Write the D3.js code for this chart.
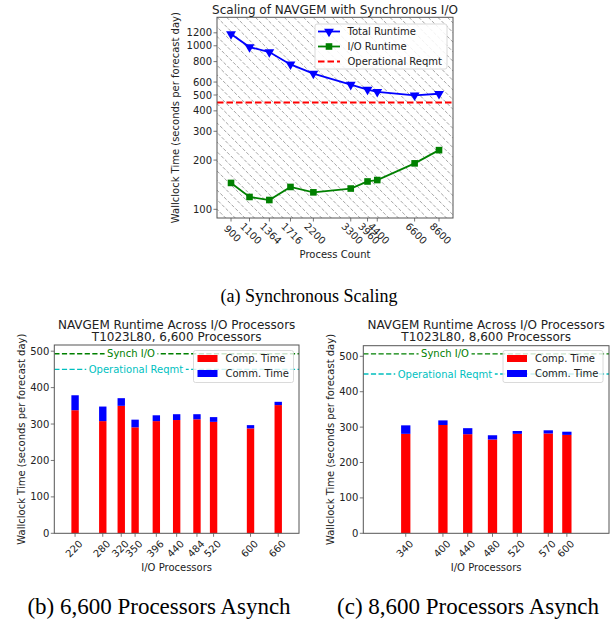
<!DOCTYPE html>
<html><head><meta charset="utf-8">
<script src="https://cdn.jsdelivr.net/npm/d3@7"></script>
<style>
body{margin:0;background:#fff;}
svg{display:block;}
text{font-family:"DejaVu Sans",sans-serif;fill:#222;}
.cap{font-family:"Liberation Serif","Times New Roman",serif;fill:#000;}
</style></head><body>
<svg id="fig" width="616" height="621"></svg>
<script>
// ---- data: (a) synchronous scaling ----
const procCounts = [900,1100,1364,1716,2200,3300,3960,4400,6600,8600];
const totalRuntime = [1179,982,915,769,675,578,539,523,498,509];
const ioRuntime = [145,119,114,137,127,134,148,151,191,230];
const opReqmt = 450;
const yTicksA = [100,200,300,400,500,600,800,1000,1200];

// ---- data: (b) 6,600 processors ----
const ioProcsB = [220,280,320,350,396,440,484,520,600,660];
const compB = [338,308,350,291,308,311,313,306,288,352];
const commB = [41,40,21,21,16,16,14,13,9,9];
const synchB = 493;

// ---- data: (c) 8,600 processors ----
const ioProcsC = [340,400,440,480,520,570,600];
const compC = [281,306,280,265,281,282,278];
const commC = [24,13,17,12,8,9,9];
const synchC = 507;
const yTicksBC = [0,100,200,300,400,500];

const svg = d3.select("#fig");
const FS = 10, TFS = 12;
const spineColor = "#555";

function box(g, x0, x1, y0, y1){
  g.append("rect").attr("x",x0).attr("y",y0).attr("width",x1-x0).attr("height",y1-y0)
   .attr("fill","none").attr("stroke",spineColor).attr("stroke-width",1);
}

// ================= (a) =================
(function(){
  const L=217,R=453,T=17.3,B=218;
  const x = d3.scaleLog().domain([773,10010]).range([L,R]);
  const y = d3.scaleLog().domain([88.5,1493]).range([B,T]);
  const g = svg.append("g");
  g.append("clipPath").attr("id","clipA").append("rect").attr("x",L).attr("y",T).attr("width",R-L).attr("height",B-T);
  // hatch
  const hg = g.append("g").attr("clip-path","url(#clipA)");
  const H = B-T, sp = 9.6;
  d3.range(-Math.ceil(H/sp)-2, Math.ceil((R-L)/sp)+2).forEach(k=>{
    const xs = L + k*sp;
    hg.append("line").attr("x1",xs).attr("y1",T).attr("x2",xs+H).attr("y2",T+H)
      .attr("stroke","#858585").attr("stroke-width",0.75).attr("stroke-dasharray","3.5,1.8");
  });
  // op reqmt
  g.append("line").attr("x1",L).attr("x2",R).attr("y1",y(opReqmt)).attr("y2",y(opReqmt))
   .attr("stroke","#ff0000").attr("stroke-width",2).attr("stroke-dasharray","6.5,3");
  const lineGen = (vals)=> d3.line().x((d,i)=>x(procCounts[i])).y(d=>y(d))(vals);
  g.append("path").attr("d",lineGen(totalRuntime)).attr("fill","none").attr("stroke","#0000ff").attr("stroke-width",1.8);
  g.append("path").attr("d",lineGen(ioRuntime)).attr("fill","none").attr("stroke","#008000").attr("stroke-width",1.8);
  const tri = d3.symbol().type(d3.symbolTriangle).size(42);
  g.selectAll(".tri").data(totalRuntime).enter().append("path")
   .attr("d",tri).attr("transform",(d,i)=>`translate(${x(procCounts[i])},${y(d)}) rotate(180)`).attr("fill","#0000ff");
  g.selectAll(".sq").data(ioRuntime).enter().append("rect")
   .attr("x",(d,i)=>x(procCounts[i])-3.3).attr("y",d=>y(d)-3.3).attr("width",6.6).attr("height",6.6).attr("fill","#008000");
  box(g,L,R,T,B);
  // y ticks
  yTicksA.forEach(v=>{
    g.append("line").attr("x1",L-3.5).attr("x2",L).attr("y1",y(v)).attr("y2",y(v)).attr("stroke",spineColor).attr("stroke-width",0.8);
    g.append("text").attr("x",L-5).attr("y",y(v)).attr("dy","0.35em").attr("text-anchor","end").attr("font-size",FS).text(v);
  });
  procCounts.forEach(v=>{
    g.append("line").attr("x1",x(v)).attr("x2",x(v)).attr("y1",B).attr("y2",B+3.5).attr("stroke",spineColor).attr("stroke-width",0.8);
    g.append("text").attr("transform",`translate(${x(v)+1.5},${B+15.5}) rotate(45)`).attr("text-anchor","middle").attr("dy","0.35em").attr("font-size",FS).text(v);
  });
  g.append("text").attr("x",(L+R)/2).attr("y",T-3.5).attr("text-anchor","middle").attr("font-size",TFS).text("Scaling of NAVGEM with Synchronous I/O");
  g.append("text").attr("x",(L+R)/2).attr("y",257.5).attr("text-anchor","middle").attr("font-size",FS).text("Process Count");
  g.append("text").attr("transform",`translate(178.5,${(T+B)/2}) rotate(-90)`).attr("text-anchor","middle").attr("font-size",FS).text("Wallclock Time (seconds per forecast day)");
  // legend
  const lg = g.append("g");
  lg.append("rect").attr("x",315).attr("y",24).attr("width",132).attr("height",45).attr("rx",2)
    .attr("fill","#fff").attr("fill-opacity",0.85).attr("stroke","#d0d0d0").attr("stroke-width",0.8);
  const rows=[{t:"Total Runtime",c:"#0000ff",m:"tri"},{t:"I/O Runtime",c:"#008000",m:"sq"},{t:"Operational Reqmt",c:"#ff0000",m:"dash"}];
  rows.forEach((r,i)=>{
    const yy = 31.5 + i*15;
    const ln = lg.append("line").attr("x1",318).attr("x2",340).attr("y1",yy).attr("y2",yy).attr("stroke",r.c).attr("stroke-width",r.m==="dash"?2:1.8);
    if(r.m==="dash") ln.attr("stroke-dasharray","6.5,3");
    if(r.m==="tri") lg.append("path").attr("d",tri).attr("transform",`translate(329,${yy}) rotate(180)`).attr("fill",r.c);
    if(r.m==="sq") lg.append("rect").attr("x",329-3.3).attr("y",yy-3.3).attr("width",6.6).attr("height",6.6).attr("fill",r.c);
    lg.append("text").attr("x",347.5).attr("y",yy).attr("dy","0.35em").attr("font-size",FS).text(r.t);
  });
  svg.append("text").attr("class","cap").attr("x",309).attr("y",302).attr("text-anchor","middle").attr("font-size",18).text("(a) Synchronous Scaling");
})();

// ================= (b),(c) =================
function barPanel(opt){
  const {L,R,T,B,xdom,ydom,cats,comp,comm,synch,bw,title2,clipId,synchLx,opLx,legX,ylabX,caption,capX} = opt;
  const x = d3.scaleLinear().domain(xdom).range([L,R]);
  const y = d3.scaleLinear().domain(ydom).range([B,T]);
  const g = svg.append("g");
  g.append("clipPath").attr("id",clipId).append("rect").attr("x",L).attr("y",T).attr("width",R-L).attr("height",B-T);
  const pg = g.append("g").attr("clip-path",`url(#${clipId})`);
  // reference lines with inline labels
  const refs=[{v:synch,c:"#008000",t:"Synch I/O",lx:synchLx},{v:opReqmt,c:"#00bfbf",t:"Operational Reqmt",lx:opLx}];
  refs.forEach(r=>{
    pg.append("line").attr("x1",L).attr("x2",R).attr("y1",y(r.v)).attr("y2",y(r.v))
      .attr("stroke",r.c).attr("stroke-width",1.4).attr("stroke-dasharray","5.2,2.4");
    const t = pg.append("text").attr("x",r.lx).attr("y",y(r.v)).attr("dy","0.35em").attr("text-anchor","middle")
      .attr("font-size",FS).style("fill",r.c).text(r.t);
    const bb = t.node().getBBox();
    pg.insert("rect",()=>t.node()).attr("x",bb.x-2.5).attr("y",bb.y).attr("width",bb.width+5).attr("height",bb.height).attr("fill","#fff");
  });
  // bars
  cats.forEach((c,i)=>{
    pg.append("rect").attr("x",x(c-bw/2)).attr("width",x(c+bw/2)-x(c-bw/2)).attr("y",y(comp[i])).attr("height",y(0)-y(comp[i])).attr("fill","#ff0000");
    pg.append("rect").attr("x",x(c-bw/2)).attr("width",x(c+bw/2)-x(c-bw/2)).attr("y",y(comp[i]+comm[i])).attr("height",y(comp[i])-y(comp[i]+comm[i])).attr("fill","#0000ff");
  });
  box(g,L,R,T,B);
  yTicksBC.forEach(v=>{
    g.append("line").attr("x1",L-3.5).attr("x2",L).attr("y1",y(v)).attr("y2",y(v)).attr("stroke",spineColor).attr("stroke-width",0.8);
    g.append("text").attr("x",L-5).attr("y",y(v)).attr("dy","0.35em").attr("text-anchor","end").attr("font-size",FS).text(v);
  });
  cats.forEach(v=>{
    g.append("line").attr("x1",x(v)).attr("x2",x(v)).attr("y1",B).attr("y2",B+3.5).attr("stroke",spineColor).attr("stroke-width",0.8);
    g.append("text").attr("transform",`translate(${x(v)-1},${B+15.5}) rotate(-45)`).attr("text-anchor","middle").attr("dy","0.35em").attr("font-size",FS).text(v);
  });
  g.append("text").attr("x",(L+R)/2).attr("y",328.5).attr("text-anchor","middle").attr("font-size",TFS).text("NAVGEM Runtime Across I/O Processors");
  g.append("text").attr("x",(L+R)/2).attr("y",341).attr("text-anchor","middle").attr("font-size",TFS).text(title2);
  g.append("text").attr("x",(L+R)/2).attr("y",571).attr("text-anchor","middle").attr("font-size",FS).text("I/O Processors");
  g.append("text").attr("transform",`translate(${ylabX},${(T+B)/2}) rotate(-90)`).attr("text-anchor","middle").attr("font-size",FS).text("Wallclock Time (seconds per forecast day)");
  // legend
  const lg = g.append("g");
  lg.append("rect").attr("x",legX).attr("y",350.5).attr("width",100).attr("height",32).attr("rx",2)
    .attr("fill","#fff").attr("fill-opacity",0.8).attr("stroke","#d0d0d0").attr("stroke-width",0.8);
  [{t:"Comp. Time",c:"#ff0000"},{t:"Comm. Time",c:"#0000ff"}].forEach((r,i)=>{
    const yy = 358.5 + i*15;
    lg.append("rect").attr("x",legX+4).attr("y",yy-3.5).attr("width",20).attr("height",7).attr("fill",r.c);
    lg.append("text").attr("x",legX+32).attr("y",yy).attr("dy","0.35em").attr("font-size",FS).text(r.t);
  });
  svg.append("text").attr("class","cap").attr("x",capX).attr("y",614).attr("text-anchor","middle").attr("font-size",23).text(caption);
}

barPanel({L:54.3,R:299,T:345,B:533.3,xdom:[175,705],ydom:[0,517],cats:ioProcsB,comp:compB,comm:commB,synch:synchB,bw:16,
  title2:"T1023L80, 6,600 Processors",clipId:"clipB",synchLx:131,opLx:136,legX:193.5,ylabX:24.5,caption:"(b) 6,600 Processors Asynch",capX:159});
barPanel({L:363.3,R:609,T:345.7,B:533.3,xdom:[271.5,668],ydom:[0,530],cats:ioProcsC,comp:compC,comm:commC,synch:synchC,bw:15,
  title2:"T1023L80, 8,600 Processors",clipId:"clipC",synchLx:445,opLx:445,legX:503,ylabX:333.5,caption:"(c) 8,600 Processors Asynch",capX:468});
</script>
</body></html>
